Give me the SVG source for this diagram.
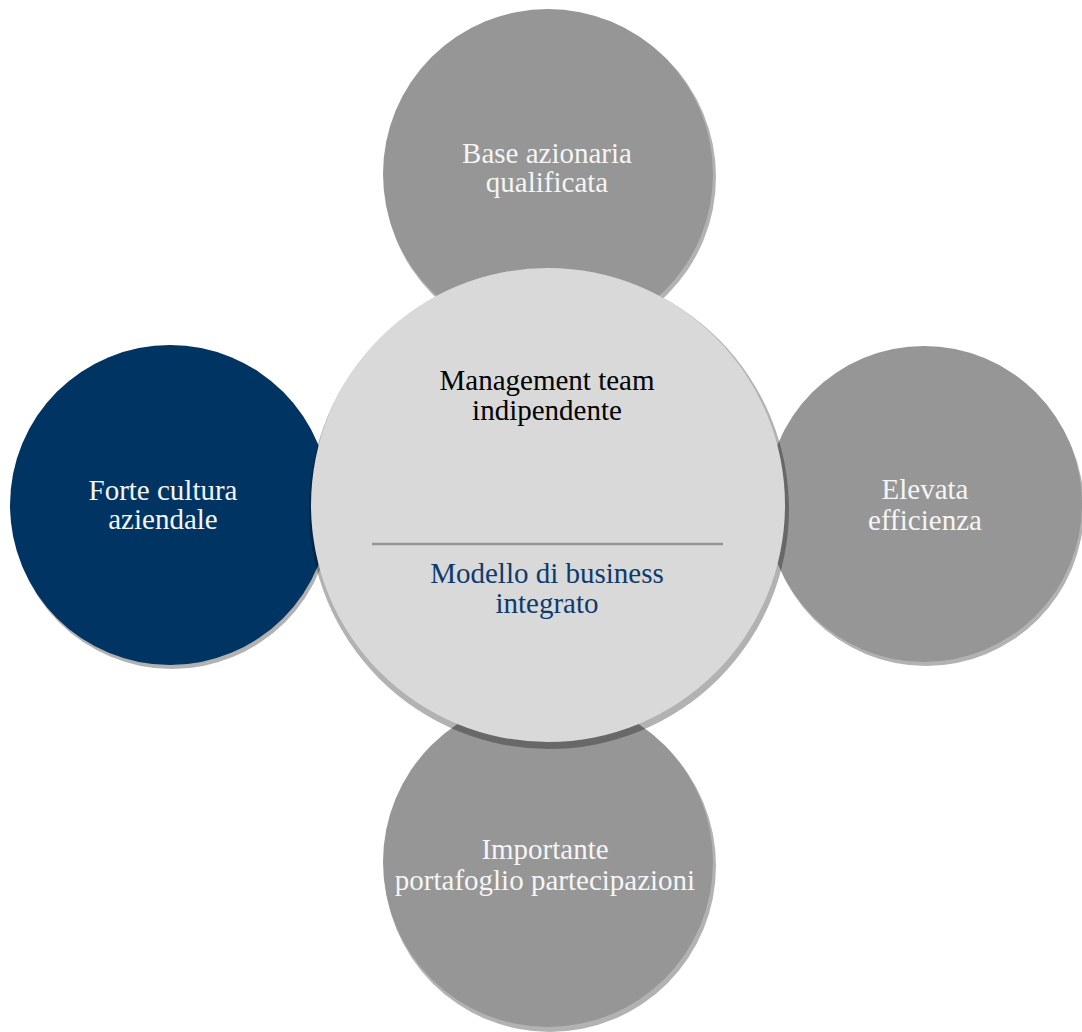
<svg xmlns="http://www.w3.org/2000/svg" width="1082" height="1032" viewBox="0 0 1082 1032">
<style>
.sh{fill:#000;fill-opacity:0.3}
.gray{fill:#969696}
.navy{fill:#003462}
.core{fill:#d9d9d9}
text{font-family:"Liberation Serif","Times New Roman",serif;font-size:29px;text-anchor:middle}
.wt{fill:#f5f5f5}
.bk{fill:#000}
.bl{fill:#0d3b6e}
</style>
<rect width="1082" height="1032" fill="#fff"/>
<g id="connectors"></g>
<g id="node-top">
<circle class="sh" cx="550" cy="177" r="166"/>
<circle class="gray" cx="548" cy="174" r="165"/>
<text class="wt" x="547" y="163">Base azionaria</text>
<text class="wt" x="547" y="192">qualificata</text>
</g>
<g id="node-left">
<circle class="sh" cx="172" cy="509" r="160"/>
<circle class="navy" cx="170" cy="505" r="160"/>
<text class="wt" x="163" y="500">Forte cultura</text>
<text class="wt" x="163" y="529">aziendale</text>
</g>
<g id="node-right">
<circle class="sh" cx="926" cy="508" r="158"/>
<circle class="gray" cx="924" cy="504" r="158"/>
<text class="wt" x="925" y="499">Elevata</text>
<text class="wt" x="925" y="530">efficienza</text>
</g>
<g id="node-bottom">
<circle class="sh" cx="550" cy="866" r="166"/>
<circle class="gray" cx="548" cy="862" r="165"/>
<text class="wt" x="545" y="859">Importante</text>
<text class="wt" x="545" y="890">portafoglio partecipazioni</text>
</g>
<g id="node-center">
<circle class="sh" cx="549" cy="509" r="240"/>
<circle class="core" cx="548" cy="505" r="237"/>
<text class="bk" x="547" y="390">Management team</text>
<text class="bk" x="547" y="420">indipendente</text>
<line x1="372" y1="544" x2="723" y2="544" stroke="#969696" stroke-width="2.5"/>
<text class="bl" x="547" y="583">Modello di business</text>
<text class="bl" x="547" y="613">integrato</text>
</g>
</svg>
